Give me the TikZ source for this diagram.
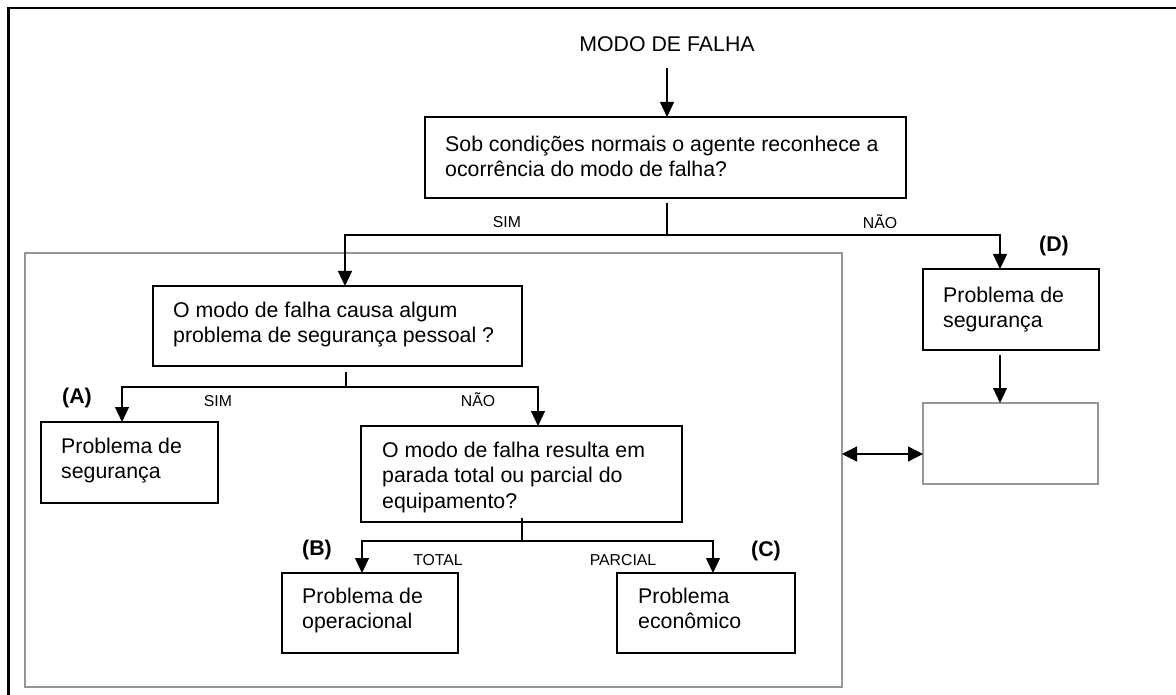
\documentclass[tikz,border=0pt]{standalone}
\usepackage{fontspec}
\setmainfont{Liberation Sans}
\usetikzlibrary{arrows.meta,calc}
\definecolor{frameGray}{RGB}{150,150,150}
% fixes the height of the first line of a box text
\newcommand\lnstrut{\rule{0pt}{17pt}}

\begin{document}
\begin{tikzpicture}[x=1pt,y=-1pt,
  box/.style={draw=black,line width=1.2pt,inner sep=0pt,outer sep=0pt},
  graybox/.style={draw=frameGray,line width=1.5pt,inner sep=0pt,outer sep=0pt},
  txt/.style={anchor=north west,inner sep=0pt,align=left,
              font=\fontsize{21.3}{25.7}\selectfont},
  branch/.style={line width=1.2pt},
  arr/.style={branch,-{Triangle[length=15pt,width=14pt]}},
  dblarr/.style={branch,{Triangle[length=15pt,width=15pt]}-{Triangle[length=15pt,width=15pt]}},
  yn/.style={anchor=base,inner sep=0pt,font=\fontsize{15.8}{18}\selectfont},
  tag/.style={anchor=base,inner sep=0pt,font=\fontsize{21.3}{24}\selectfont\bfseries},
  title/.style={anchor=base,inner sep=0pt,font=\fontsize{21.3}{24}\selectfont}]

\useasboundingbox (0,0) rectangle (1176,695);
\clip (0,0) rectangle (1176,695);

% page frame
\draw[line width=2.5pt] (8.5,700) -- (8.5,7.8) -- (1180,7.8);

% grey group around the inner decision tree
\node[graybox,minimum width=817pt,minimum height=434pt] (big) at (433.5,470) {};

% boxes
\node[box,minimum width=481pt,minimum height=81pt] (q1) at (665.5,157.5) {};
\node[box,minimum width=369pt,minimum height=80pt] (q2) at (337.5,326) {};
\node[box,minimum width=177pt,minimum height=81pt] (qA) at (129.5,462.5) {};
\node[box,minimum width=321pt,minimum height=96pt] (q3) at (521.5,474) {};
\node[box,minimum width=176pt,minimum height=80pt] (qB) at (370,613) {};
\node[box,minimum width=178pt,minimum height=80pt] (qC) at (706,613) {};
\node[box,minimum width=176pt,minimum height=81pt] (qD) at (1011,309.5) {};
\node[graybox,minimum width=175pt,minimum height=81pt] (gE) at (1010.5,443.5) {};

% box texts
\node[txt] (q1t) at ($(q1.north west)+(20,17)$)
  {\lnstrut Sob condições normais o agente reconhece a\\ocorrência do modo de falha?};
\node[txt] (q2t) at ($(q2.north west)+(20,14)$)
  {\lnstrut O modo de falha causa algum\\problema de segurança pessoal ?};
\node[txt] (qAt) at ($(qA.north west)+(20,14)$)
  {\lnstrut Problema de\\segurança};
\node[txt] (q3t) at ($(q3.north west)+(21,14)$)
  {\lnstrut O modo de falha resulta em\\parada total ou parcial do\\equipamento?};
\node[txt] (qBt) at ($(qB.north west)+(20,13)$)
  {\lnstrut Problema de\\operacional};
\node[txt] (qCt) at ($(qC.north west)+(21,13)$)
  {\lnstrut Problema\\econômico};
\node[txt] (qDt) at ($(qD.north west)+(20,16)$)
  {\lnstrut Problema de\\segurança};

% title
\node[title] (modo) at (667,52) {MODO DE FALHA};
\draw[arr] ($(modo.south)+(0,16)$) -- (modo.south |- q1.north);

% first question: SIM / NÃO
\coordinate (j1) at (667,235);
\coordinate (j1s) at ($(j1 |- q1.south)+(0,5)$);
\draw[branch] (j1s) -- (j1);
\draw[arr] (j1) -| ($(q2.north)+(7.5,0)$);
\draw[arr] (j1) -| ($(qD.north)+(-11,0)$);
\node[yn] (sim1) at (507,228) {SIM};
\node[yn] (nao1) at (880,229) {NÃO};
\node[tag] (tD) at (1054,252) {(D)};

% second question
\coordinate (j2) at (346,387);
\coordinate (j2s) at ($(j2 |- q2.south)+(0,6)$);
\draw[branch] (j2s) -- (j2);
\draw[arr] (j2) -| ($(qA.north)+(-7.5,0)$);
\draw[arr] (j2) -| ($(q3.north)+(16.5,0)$);
\node[tag] (tA) at (77,403) {(A)};
\node[yn] (sim2) at (218,406) {SIM};
\node[yn] (nao2) at (478,406) {NÃO};

% third question
\coordinate (j3) at (522,541);
\coordinate (j3s) at ($(j3 |- q3.south)+(0,-4)$);
\draw[branch] (j3s) -- (j3);
\draw[arr] (j3) -| ($(qB.north)+(-8,0)$);
\draw[arr] (j3) -| ($(qC.north)+(7,0)$);
\node[tag] (tB) at (317,555) {(B)};
\node[yn] (tot) at (438,565) {TOTAL};
\node[yn] (par) at (623,565) {PARCIAL};
\node[tag] (tC) at (766,556) {(C)};

% right column
\coordinate (dx) at ($(qD.south)+(-11,5)$);
\draw[arr] (dx) -- (dx |- gE.north);
\coordinate (lk) at ($(gE.west)+(0,10.5)$);
\draw[dblarr] (lk -| big.east) -- (lk);

\end{tikzpicture}
\end{document}
